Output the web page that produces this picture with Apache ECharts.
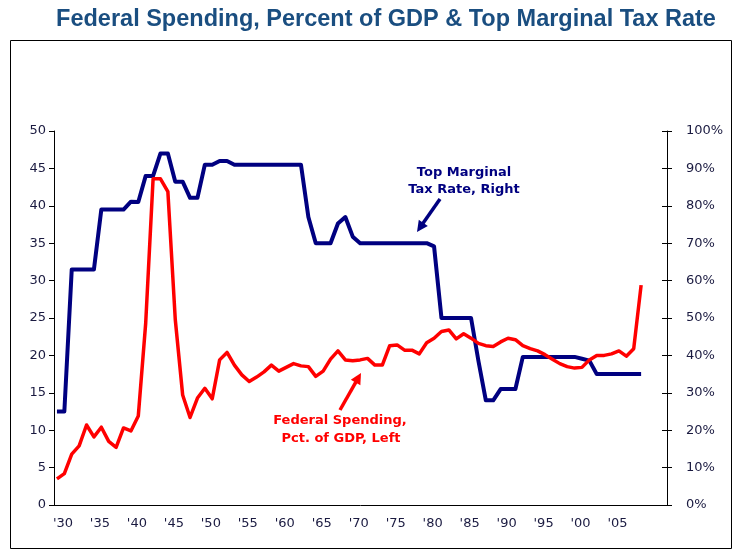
<!DOCTYPE html>
<html>
<head>
<meta charset="utf-8">
<script src="https://cdn.jsdelivr.net/npm/echarts@6/dist/echarts.min.js"></script>
<style>
  html, body { margin: 0; padding: 0; background: #fff; }
  #chart { width: 736px; height: 552px; }
</style>
</head>
<body>
<div id="chart"></div>
<script>
// ---- Data ----
const years = [
  1930,1931,1932,1933,1934,1935,1936,1937,1938,1939,
  1940,1941,1942,1943,1944,1945,1946,1947,1948,1949,
  1950,1951,1952,1953,1954,1955,1956,1957,1958,1959,
  1960,1961,1962,1963,1964,1965,1966,1967,1968,1969,
  1970,1971,1972,1973,1974,1975,1976,1977,1978,1979,
  1980,1981,1982,1983,1984,1985,1986,1987,1988,1989,
  1990,1991,1992,1993,1994,1995,1996,1997,1998,1999,
  2000,2001,2002,2003,2004,2005,2006,2007,2008,2009
];

// Top marginal tax rate, % (right axis)
const topTaxRate = [
  25, 25, 63, 63, 63, 63, 79, 79, 79, 79,
  81.1, 81, 88, 88, 94, 94, 86.45, 86.45, 82.13, 82.13,
  91, 91, 92, 92, 91, 91, 91, 91, 91, 91,
  91, 91, 91, 91, 77, 70, 70, 70, 75.25, 77,
  71.75, 70, 70, 70, 70, 70, 70, 70, 70, 70,
  70, 69.13, 50, 50, 50, 50, 50, 38.5, 28, 28,
  31, 31, 31, 39.6, 39.6, 39.6, 39.6, 39.6, 39.6, 39.6,
  39.6, 39.1, 38.6, 35, 35, 35, 35, 35, 35, 35
];

// Federal spending, % of GDP (left axis)
const fedSpending = [
  3.5, 4.2, 6.8, 7.9, 10.7, 9.1, 10.4, 8.5, 7.7, 10.3,
  9.9, 11.9, 24.3, 43.6, 43.6, 41.9, 24.8, 14.7, 11.7, 14.3,
  15.6, 14.2, 19.4, 20.4, 18.7, 17.4, 16.5, 17.1, 17.8, 18.7,
  17.9, 18.4, 18.9, 18.6, 18.5, 17.2, 17.9, 19.5, 20.6, 19.4,
  19.3, 19.4, 19.6, 18.7, 18.7, 21.3, 21.4, 20.7, 20.7, 20.2,
  21.7, 22.3, 23.2, 23.4, 22.2, 22.9, 22.3, 21.6, 21.3, 21.2,
  21.8, 22.3, 22.1, 21.3, 20.9, 20.6, 20.1, 19.5, 18.9, 18.5,
  18.3, 18.4, 19.4, 20.0, 20.0, 20.2, 20.6, 19.9, 20.9, 29.4
];

const xTickYears = [1930,1935,1940,1945,1950,1955,1960,1965,1970,1975,1980,1985,1990,1995,2000,2005];
const xTickLabels = ["'30","'35","'40","'45","'50","'55","'60","'65","'70","'75","'80","'85","'90","'95","'00","'05"];

const titleText = 'Federal Spending, Percent of GDP & Top Marginal Tax Rate';
const taxNote = ['Top Marginal', 'Tax Rate, Right'];
const spendNote = ['Federal Spending,', 'Pct. of GDP, Left'];

// ---- Build chart ----
const taxData = years.map((y, i) => [y, topTaxRate[i]]);
const spendData = years.map((y, i) => [y, fedSpending[i]]);
const labelMap = {};
xTickYears.forEach((y, i) => { labelMap[y] = xTickLabels[i]; });

const labelColor = '#1a1a40';
const axisFont = 'DejaVu Sans, Verdana, sans-serif';

function arrow(tail, tip, color) {
  const dx = tip[0] - tail[0], dy = tip[1] - tail[1];
  const len = Math.sqrt(dx * dx + dy * dy);
  const ux = dx / len, uy = dy / len;
  const hl = 11, hw = 5.5;
  const bx = tip[0] - ux * hl, by = tip[1] - uy * hl;
  const nx = -uy, ny = ux;
  return [
    { type: 'line', shape: { x1: tail[0], y1: tail[1], x2: bx + ux * 2, y2: by + uy * 2 },
      style: { stroke: color, lineWidth: 3.5 }, z: 10 },
    { type: 'polygon', shape: { points: [[tip[0], tip[1]], [bx + nx * hw, by + ny * hw], [bx - nx * hw, by - ny * hw]] },
      style: { fill: color }, z: 10 }
  ];
}

const chart = echarts.init(document.getElementById('chart'), null, { renderer: 'canvas' });

chart.setOption({
  animation: false,
  backgroundColor: '#ffffff',
  title: {
    text: titleText,
    left: 381,
    top: 3,
    textAlign: 'center',
    textStyle: {
      fontFamily: 'Liberation Sans, Arial, sans-serif',
      fontWeight: 'bold',
      fontSize: 23.5,
      color: '#1a4e80'
    }
  },
  grid: { left: 54, right: 69, top: 131, bottom: 47, containLabel: false },
  xAxis: {
    type: 'value',
    min: 1929.6,
    max: 2012.5,
    splitLine: { show: false },
    axisLine: { show: true, lineStyle: { color: '#000', width: 1 } },
    axisTick: { show: false },
    axisLabel: {
      customValues: xTickYears,
      formatter: v => labelMap[v] || '',
      color: labelColor,
      fontFamily: axisFont,
      fontSize: 13,
      margin: 12,
      padding: [0, 0, 0, 12]
    }
  },
  yAxis: [
    {
      type: 'value', position: 'left', min: 0, max: 50, interval: 5,
      splitLine: { show: false },
      axisLine: { show: true, lineStyle: { color: '#000', width: 1 } },
      axisTick: { show: true, inside: false, length: 5, lineStyle: { color: '#000' } },
      axisLabel: { color: labelColor, fontFamily: axisFont, fontSize: 13, margin: 8 }
    },
    {
      type: 'value', position: 'right', min: 0, max: 100, interval: 10,
      splitLine: { show: false },
      axisLine: { show: true, lineStyle: { color: '#000', width: 1 } },
      axisTick: { show: true, inside: false, length: 5, lineStyle: { color: '#000' } },
      axisLabel: { color: labelColor, fontFamily: axisFont, fontSize: 13, margin: 19, formatter: '{value}%' }
    },
    {
      type: 'value', position: 'right', min: 0, max: 100, interval: 10,
      splitLine: { show: false },
      axisLine: { show: false },
      axisTick: { show: true, inside: true, length: 5, lineStyle: { color: '#000' } },
      axisLabel: { show: false }
    }
  ],
  series: [
    {
      name: 'Top Marginal Tax Rate, Right',
      type: 'line',
      yAxisIndex: 1,
      data: taxData,
      showSymbol: false,
      symbol: 'none',
      lineStyle: { color: '#000080', width: 4, join: 'round' },
      z: 3
    },
    {
      name: 'Federal Spending, Pct. of GDP, Left',
      type: 'line',
      yAxisIndex: 0,
      data: spendData,
      showSymbol: false,
      symbol: 'none',
      lineStyle: { color: '#ff0000', width: 3.5, join: 'round' },
      z: 4
    }
  ],
  graphic: [
    { type: 'rect', shape: { x: 10.5, y: 40.5, width: 721, height: 508 },
      style: { fill: 'none', stroke: '#000', lineWidth: 1 }, silent: true, z: 0 },
    { type: 'text', x: 464, y: 173, style: { text: taxNote[0], textAlign: 'center', textVerticalAlign: 'middle',
      font: 'bold 13px DejaVu Sans, Verdana, sans-serif', fill: '#000080' }, z: 10 },
    { type: 'text', x: 464, y: 190, style: { text: taxNote[1], textAlign: 'center', textVerticalAlign: 'middle',
      font: 'bold 13px DejaVu Sans, Verdana, sans-serif', fill: '#000080' }, z: 10 },
    { type: 'text', x: 340, y: 421, style: { text: spendNote[0], textAlign: 'center', textVerticalAlign: 'middle',
      font: 'bold 13px DejaVu Sans, Verdana, sans-serif', fill: '#ff0000' }, z: 10 },
    { type: 'text', x: 341, y: 439, style: { text: spendNote[1], textAlign: 'center', textVerticalAlign: 'middle',
      font: 'bold 13px DejaVu Sans, Verdana, sans-serif', fill: '#ff0000' }, z: 10 },
    ...arrow([440, 199], [417, 232], '#000080'),
    ...arrow([340, 410], [361, 373], '#ff0000')
  ]
});
</script>
</body>
</html>
